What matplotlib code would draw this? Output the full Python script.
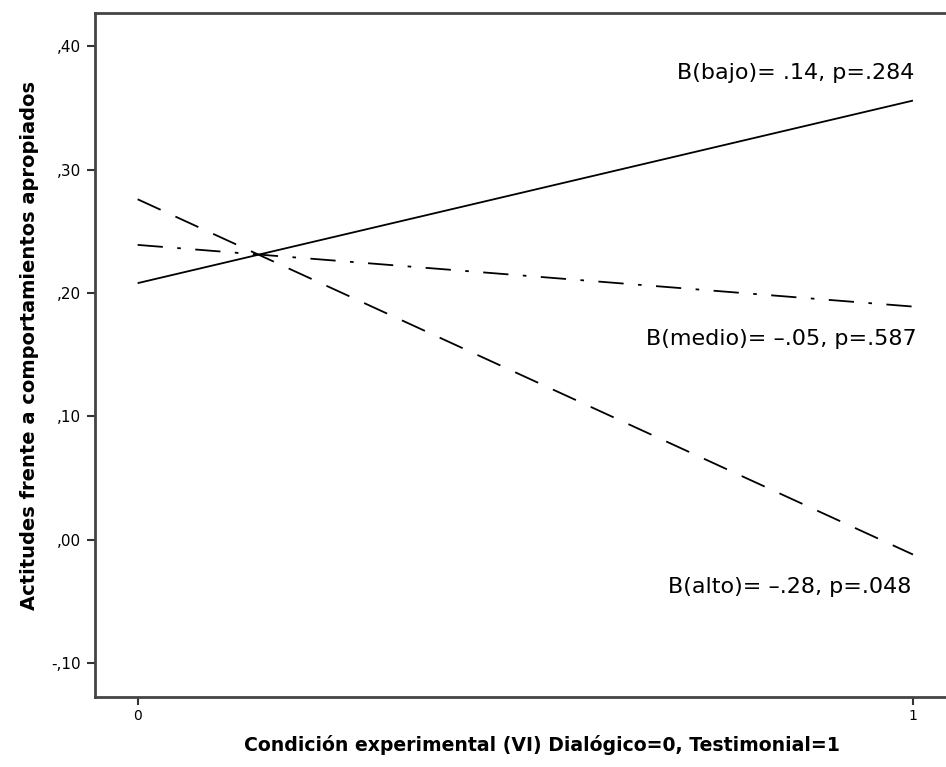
import matplotlib
matplotlib.use("Agg")
import matplotlib.pyplot as plt

# Valores predichos de la VD en cada condición (0 = dialógico, 1 = testimonial)
condicion = [0, 1]
bajo = [0.208, 0.356]
medio = [0.239, 0.189]
alto = [0.276, -0.012]

etiquetas = {
    "bajo": "B(bajo)= .14, p=.284",
    "medio": "B(medio)= \u2013.05, p=.587",
    "alto": "B(alto)= \u2013.28, p=.048",
}

y_ticks = [-0.10, 0.00, 0.10, 0.20, 0.30, 0.40]
y_ticklabels = ["-,10", ",00", ",10", ",20", ",30", ",40"]

plt.rcParams['font.family'] = ['DejaVu Sans']

W, H = 946, 767
fig = plt.figure(figsize=(W / 100, H / 100), dpi=100)
# el marco se sale por la derecha, por eso el ancho pasa del borde
ax = fig.add_axes([95 / W, (H - 697) / H, (975 - 95) / W, (697 - 13) / H])

ax.plot(condicion, bajo, color='black', lw=1.3, solid_capstyle='butt')
ax.plot(condicion, medio, color='black', lw=1.3, dashes=(14, 8, 2, 8))
ax.plot(condicion, alto, color='black', lw=1.3, dashes=(14, 9))

ax.set_xlim(-0.055, 1.08)
ax.set_ylim(-0.1275, 0.427)
ax.set_xticks(condicion)
ax.set_xticklabels(["0", "1"], fontsize=10)
ax.set_yticks(y_ticks)
ax.set_yticklabels(y_ticklabels, fontsize=11)
ax.tick_params(axis='both', length=6, width=1.5, color='#333333', pad=4)
ax.tick_params(axis='x', pad=3)

for s in ['left', 'top', 'bottom']:
    ax.spines[s].set_linewidth(2)
    ax.spines[s].set_color('#444444')
ax.spines['right'].set_visible(False)

ax.text(1.002, 0.378, etiquetas["bajo"], ha='right', va='center', fontsize=16)
ax.text(1.005, 0.163, etiquetas["medio"], ha='right', va='center', fontsize=16)
ax.text(0.998, -0.038, etiquetas["alto"], ha='right', va='center', fontsize=16)

fig.text(542 / W, 1 - 745 / H, "Condición experimental (VI) Dialógico=0, Testimonial=1",
         ha='center', va='center', fontsize=13.6, fontweight='bold')
fig.text(30 / W, 1 - 346 / H, "Actitudes frente a comportamientos apropiados",
         ha='center', va='center', rotation=90, fontsize=14, fontweight='bold')

fig.savefig("out.png", dpi=100)
